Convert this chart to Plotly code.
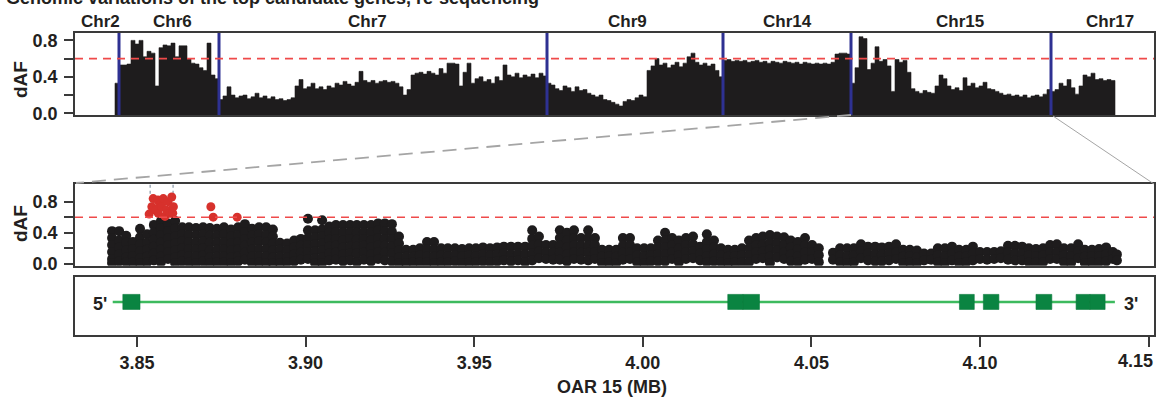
import plotly.graph_objects as go

# ---------------- data ----------------
# Top panel: dAF per genomic bin (equal-width bins), grouped by chromosome
chr_names = ["Chr2", "Chr6", "Chr7", "Chr9", "Chr14", "Chr15", "Chr17"]
daf_chr2 = [0.33]
daf_chr6 = [0.53, 0.53, 0.54, 0.80, 0.76, 0.80, 0.62, 0.68, 0.66, 0.30, 0.72, 0.75, 0.74,
            0.77, 0.62, 0.74, 0.74, 0.60, 0.55, 0.54, 0.50, 0.47, 0.77, 0.42, 0.38]
daf_chr7 = [0.15, 0.19, 0.29, 0.20, 0.17, 0.19, 0.20, 0.16, 0.18, 0.22, 0.17, 0.19, 0.16,
            0.18, 0.15, 0.16, 0.14, 0.15, 0.17, 0.30, 0.37, 0.27, 0.29, 0.33, 0.27, 0.29,
            0.26, 0.30, 0.28, 0.33, 0.31, 0.35, 0.32, 0.30, 0.34, 0.46, 0.36, 0.34, 0.36,
            0.33, 0.35, 0.36, 0.34, 0.35, 0.33, 0.29, 0.20, 0.26, 0.42, 0.44, 0.45, 0.43,
            0.46, 0.44, 0.42, 0.49, 0.44, 0.55, 0.55, 0.54, 0.30, 0.45, 0.55, 0.33, 0.38,
            0.40, 0.35, 0.37, 0.33, 0.40, 0.36, 0.53, 0.42, 0.40, 0.44, 0.39, 0.42, 0.40,
            0.43, 0.39, 0.44, 0.41]
daf_chr9 = [0.33, 0.31, 0.27, 0.25, 0.30, 0.28, 0.24, 0.29, 0.25, 0.26, 0.22, 0.20, 0.18,
            0.20, 0.15, 0.14, 0.12, 0.10, 0.08, 0.13, 0.15, 0.14, 0.17, 0.20, 0.18, 0.47,
            0.52, 0.60, 0.53, 0.55, 0.50, 0.53, 0.56, 0.51, 0.55, 0.62, 0.66, 0.56, 0.53,
            0.55, 0.52, 0.54, 0.47, 0.40]
daf_chr14 = [0.58, 0.59, 0.57, 0.58, 0.57, 0.58, 0.56, 0.57, 0.58, 0.56, 0.57, 0.55, 0.57,
             0.56, 0.55, 0.57, 0.56, 0.55, 0.56, 0.54, 0.56, 0.55, 0.54, 0.55, 0.54, 0.55,
             0.54, 0.56, 0.65, 0.66, 0.66, 0.65]
daf_chr15 = [0.33, 0.50, 0.84, 0.82, 0.48, 0.55, 0.73, 0.57, 0.59, 0.52, 0.24, 0.59, 0.56,
             0.58, 0.45, 0.27, 0.24, 0.22, 0.25, 0.23, 0.22, 0.30, 0.42, 0.38, 0.30, 0.26,
             0.28, 0.25, 0.39, 0.30, 0.33, 0.28, 0.30, 0.34, 0.27, 0.26, 0.24, 0.22, 0.20,
             0.21, 0.19, 0.20, 0.18, 0.20, 0.17, 0.19, 0.20, 0.18, 0.21, 0.26]
daf_chr17 = [0.24, 0.26, 0.33, 0.30, 0.37, 0.28, 0.21, 0.30, 0.42, 0.40, 0.44, 0.37, 0.38,
             0.36, 0.37, 0.36]
top_daf = [daf_chr2, daf_chr6, daf_chr7, daf_chr9, daf_chr14, daf_chr15, daf_chr17]

# Middle panel: SNP positions on OAR15 (Mb) and dAF values observed at each position
mid_pos = [3.8426, 3.8447, 3.8468, 3.8488, 3.8509, 3.8530, 3.8550, 3.8571, 3.8592, 3.8613,
           3.8634, 3.8654, 3.8675, 3.8696, 3.8716, 3.8737, 3.8758, 3.8779, 3.8800, 3.8820,
           3.8841, 3.8862, 3.8883, 3.8903, 3.8924, 3.8945, 3.8966, 3.8986, 3.9007, 3.9028,
           3.9049, 3.9070, 3.9090, 3.9111, 3.9132, 3.9152, 3.9173, 3.9194, 3.9215, 3.9235,
           3.9256, 3.9277, 3.9298, 3.9319, 3.9339, 3.9360, 3.9381, 3.9402, 3.9422, 3.9443,
           3.9464, 3.9485, 3.9505, 3.9526, 3.9547, 3.9568, 3.9588, 3.9609, 3.9630, 3.9651,
           3.9672, 3.9692, 3.9713, 3.9734, 3.9754, 3.9775, 3.9796, 3.9817, 3.9838, 3.9858,
           3.9879, 3.9900, 3.9921, 3.9941, 3.9962, 3.9983, 4.0004, 4.0024, 4.0045, 4.0066,
           4.0087, 4.0107, 4.0128, 4.0149, 4.0170, 4.0190, 4.0211, 4.0232, 4.0253, 4.0273,
           4.0294, 4.0315, 4.0336, 4.0356, 4.0377, 4.0398, 4.0419, 4.0439, 4.0460, 4.0481,
           4.0502, 4.0522, 4.0564, 4.0585, 4.0606, 4.0626, 4.0647, 4.0668, 4.0689, 4.0709,
           4.0730, 4.0751, 4.0772, 4.0792, 4.0813, 4.0834, 4.0855, 4.0875, 4.0896, 4.0917,
           4.0938, 4.0959, 4.0979, 4.1000, 4.1021, 4.1042, 4.1062, 4.1083, 4.1104, 4.1125,
           4.1145, 4.1166, 4.1187, 4.1208, 4.1228, 4.1249, 4.1270, 4.1291, 4.1311, 4.1332,
           4.1353, 4.1374, 4.1394, 4.1406]
mid_daf = [
    [0.42, 0.33, 0.24, 0.15, 0.06, 0.01], [0.42, 0.30, 0.21, 0.12, 0.03], [0.36, 0.27, 0.17, 0.08, 0.02],
    [0.28, 0.19, 0.10, 0.02], [0.45, 0.34, 0.25, 0.16, 0.07, 0.01], [0.38, 0.27, 0.18, 0.09, 0.02],
    [0.50, 0.40, 0.31, 0.22, 0.13, 0.04], [0.55, 0.46, 0.37, 0.27, 0.18, 0.09, 0.02],
    [0.52, 0.42, 0.33, 0.24, 0.15, 0.06], [0.55, 0.45, 0.35, 0.26, 0.17, 0.08, 0.01],
    [0.47, 0.38, 0.29, 0.20, 0.11, 0.03], [0.47, 0.37, 0.28, 0.19, 0.10, 0.02],
    [0.46, 0.37, 0.27, 0.18, 0.09, 0.01], [0.47, 0.38, 0.29, 0.20, 0.11, 0.03],
    [0.46, 0.36, 0.27, 0.17, 0.08, 0.01], [0.45, 0.36, 0.27, 0.18, 0.09, 0.02],
    [0.47, 0.38, 0.28, 0.19, 0.10, 0.02], [0.44, 0.35, 0.26, 0.17, 0.08, 0.01],
    [0.47, 0.37, 0.28, 0.19, 0.10, 0.03], [0.51, 0.41, 0.32, 0.23, 0.14, 0.05],
    [0.45, 0.36, 0.27, 0.18, 0.09, 0.01], [0.47, 0.38, 0.29, 0.19, 0.10, 0.02],
    [0.47, 0.37, 0.28, 0.19, 0.10, 0.01], [0.44, 0.35, 0.26, 0.17, 0.08, 0.01],
    [0.27, 0.18, 0.09, 0.01], [0.26, 0.17, 0.08, 0.02], [0.30, 0.21, 0.12, 0.03],
    [0.32, 0.23, 0.14, 0.05], [0.58, 0.43, 0.33, 0.24, 0.15, 0.06], [0.43, 0.34, 0.25, 0.16, 0.07, 0.01],
    [0.56, 0.44, 0.35, 0.26, 0.17, 0.08, 0.01], [0.48, 0.40, 0.31, 0.22, 0.13, 0.04],
    [0.50, 0.41, 0.32, 0.23, 0.14, 0.05], [0.50, 0.40, 0.30, 0.21, 0.12, 0.03],
    [0.50, 0.41, 0.32, 0.22, 0.13, 0.04], [0.50, 0.40, 0.31, 0.22, 0.13, 0.02],
    [0.50, 0.41, 0.32, 0.23, 0.14, 0.05], [0.50, 0.40, 0.30, 0.21, 0.12, 0.03],
    [0.52, 0.43, 0.33, 0.24, 0.15, 0.06], [0.52, 0.42, 0.32, 0.23, 0.14, 0.04],
    [0.51, 0.41, 0.32, 0.22, 0.13, 0.03], [0.35, 0.26, 0.17, 0.08, 0.01],
    [0.18, 0.09, 0.01], [0.18, 0.09, 0.02], [0.20, 0.11, 0.02], [0.28, 0.19, 0.10, 0.02],
    [0.28, 0.18, 0.09, 0.01], [0.20, 0.11, 0.02], [0.20, 0.10, 0.02], [0.20, 0.11, 0.03],
    [0.19, 0.10, 0.01], [0.20, 0.11, 0.02], [0.20, 0.10, 0.02], [0.21, 0.12, 0.03],
    [0.20, 0.11, 0.02], [0.21, 0.12, 0.03], [0.22, 0.13, 0.04], [0.22, 0.12, 0.03],
    [0.22, 0.13, 0.04], [0.22, 0.12, 0.02], [0.43, 0.32, 0.23, 0.13, 0.04], [0.35, 0.25, 0.16, 0.07],
    [0.24, 0.15, 0.06], [0.24, 0.14, 0.05], [0.43, 0.33, 0.23, 0.14, 0.05], [0.40, 0.30, 0.21, 0.12, 0.03],
    [0.43, 0.33, 0.24, 0.15, 0.06], [0.33, 0.23, 0.14, 0.05], [0.43, 0.33, 0.23, 0.14, 0.04],
    [0.33, 0.24, 0.15, 0.06], [0.18, 0.09, 0.01], [0.18, 0.10, 0.02], [0.18, 0.09, 0.01],
    [0.33, 0.23, 0.14, 0.05], [0.33, 0.24, 0.15, 0.06], [0.20, 0.11, 0.02], [0.20, 0.10, 0.01],
    [0.20, 0.11, 0.03], [0.30, 0.21, 0.12, 0.03], [0.40, 0.30, 0.21, 0.12, 0.03], [0.33, 0.24, 0.15, 0.06],
    [0.30, 0.20, 0.11, 0.02], [0.33, 0.24, 0.15, 0.06], [0.35, 0.25, 0.16, 0.07], [0.22, 0.13, 0.04],
    [0.38, 0.28, 0.19, 0.10, 0.02], [0.30, 0.21, 0.12, 0.03], [0.20, 0.11, 0.02], [0.18, 0.09, 0.01],
    [0.18, 0.10, 0.02], [0.20, 0.11, 0.02], [0.30, 0.20, 0.11, 0.02], [0.33, 0.24, 0.15, 0.06],
    [0.35, 0.25, 0.16, 0.07], [0.37, 0.27, 0.18, 0.09, 0.01], [0.35, 0.26, 0.17, 0.08],
    [0.34, 0.24, 0.15, 0.06], [0.30, 0.21, 0.12, 0.03], [0.28, 0.19, 0.10, 0.02], [0.33, 0.23, 0.14, 0.05],
    [0.24, 0.15, 0.06], [0.20, 0.11, 0.02], [0.14, 0.05], [0.20, 0.11, 0.02], [0.20, 0.10, 0.01],
    [0.20, 0.11, 0.02], [0.25, 0.16, 0.07], [0.22, 0.13, 0.04], [0.22, 0.12, 0.03], [0.21, 0.12, 0.03],
    [0.22, 0.13, 0.04], [0.25, 0.15, 0.06], [0.18, 0.09, 0.01], [0.18, 0.10, 0.02], [0.17, 0.08, 0.01],
    [0.13, 0.04], [0.13, 0.05], [0.20, 0.11, 0.02], [0.20, 0.10, 0.01], [0.22, 0.13, 0.04],
    [0.18, 0.09, 0.01], [0.18, 0.10, 0.02], [0.22, 0.13, 0.04], [0.15, 0.06], [0.15, 0.05],
    [0.15, 0.06], [0.16, 0.07], [0.23, 0.14, 0.05], [0.23, 0.13, 0.04], [0.22, 0.13, 0.04],
    [0.20, 0.11, 0.02], [0.19, 0.10, 0.02], [0.20, 0.11, 0.02], [0.24, 0.15, 0.06], [0.25, 0.15, 0.06],
    [0.20, 0.11, 0.02], [0.20, 0.10, 0.01], [0.25, 0.16, 0.07], [0.18, 0.09, 0.01], [0.18, 0.10, 0.02],
    [0.19, 0.10, 0.02], [0.21, 0.12, 0.03], [0.15, 0.06], [0.12, 0.04],
]
# Candidate SNPs above the threshold (red)
red_pos = [3.8536, 3.8544, 3.8548, 3.8556, 3.8562, 3.8563, 3.8568, 3.8573, 3.8578, 3.8583,
           3.8588, 3.8592, 3.8598, 3.8603, 3.8606, 3.8608, 3.8719, 3.8726, 3.8797]
red_daf = [0.64, 0.735, 0.84, 0.69, 0.82, 0.65, 0.76, 0.735, 0.84, 0.61,
           0.69, 0.80, 0.65, 0.86, 0.65, 0.735, 0.735, 0.60, 0.60]
threshold = 0.6
region_bounds = [3.8539, 3.8607]

# Gene model (Mb)
gene_span = [3.8428, 4.1400]
exon_start = [3.8458, 4.0252, 4.0297, 4.0939, 4.1010, 4.1166, 4.1285, 4.1326]
exon_end = [3.8509, 4.0297, 4.0346, 4.0983, 4.1056, 4.1213, 4.1326, 4.1371]

x_ticks = [3.85, 3.90, 3.95, 4.00, 4.05, 4.10, 4.15]
x_tick_text = ["3.85", "3.90", "3.95", "4.00", "4.05", "4.10", "4.15"]
y_ticks = [0.0, 0.2, 0.4, 0.6, 0.8]
y_tick_text = ["0.0", "", "0.4", "", "0.8"]

# ---------------- layout helpers ----------------
W, H = 1160, 402
def fx(p):
    return p / W
def fy(p):
    return 1 - p / H

FONT = "Liberation Sans, Arial, Helvetica, sans-serif"
TXT = "#231f20"
X_DOM = [fx(75), fx(1154)]
MB_RANGE = [3.85 + (75 - 137) / 3372.0, 3.85 + (1154 - 137) / 3372.0]
TOP_RANGE = [(75 - 115) / 4.0, (1154 - 115) / 4.0]

fig = go.Figure()

# ---- top panel: stepped filled profile ----
vals = [v for lst in top_daf for v in lst]
n = len(vals)
xs = [0] + list(range(n)) + [n, n]
ys = [-0.05] + vals + [vals[-1], -0.05]
fig.add_trace(go.Scatter(x=xs, y=ys, mode="lines", line=dict(shape="hv", width=0.6, color="#1e1c1d"),
                         fill="toself", fillcolor="#1e1c1d", xaxis="x", yaxis="y",
                         hoverinfo="skip", showlegend=False))

# ---- middle panel ----
bx, by = [], []
for p, col in zip(mid_pos, mid_daf):
    for v in col:
        bx.append(p)
        by.append(v)
fig.add_trace(go.Scatter(x=bx, y=by, mode="markers", marker=dict(size=10, color="#1e1c1d"),
                         xaxis="x2", yaxis="y2", showlegend=False))
fig.add_trace(go.Scatter(x=red_pos, y=red_daf, mode="markers", marker=dict(size=9, color="#d7312c"),
                         xaxis="x2", yaxis="y2", showlegend=False))

# gene backbone
fig.add_trace(go.Scatter(x=gene_span, y=[0.57, 0.57], mode="lines",
                         line=dict(color="#3dba5e", width=2.5),
                         xaxis="x3", yaxis="y3", showlegend=False))

shapes = []
# chromosome boundaries
bounds = []
acc = 0
for lst in top_daf[:-1]:
    acc += len(lst)
    bounds.append(acc)
for b in bounds:
    shapes.append(dict(type="line", xref="x", yref="y domain", x0=b, x1=b, y0=0, y1=1,
                       line=dict(color="#2e3192", width=3), layer="above"))
# thresholds
for yr, xr in (("y", "x domain"), ("y2", "x2 domain")):
    shapes.append(dict(type="line", xref=xr, yref=yr, x0=0, x1=1, y0=threshold, y1=threshold,
                       line=dict(color="#ef4a4a", width=1.6, dash="8px,6px"), layer="above"))
# candidate region bounds
for b in region_bounds:
    shapes.append(dict(type="line", xref="x2", yref="y2 domain", x0=b, x1=b, y0=0, y1=1,
                       line=dict(color="#8a98a8", width=1.2, dash="3px,3px"), layer="below"))
# connector lines
shapes.append(dict(type="line", xref="paper", yref="paper", x0=fx(851), y0=fy(115), x1=fx(76), y1=fy(183),
                   line=dict(color="#a5a5a5", width=1.8, dash="14px,8px")))
shapes.append(dict(type="line", xref="paper", yref="paper", x0=fx(1053), y0=fy(116), x1=fx(1154), y1=fy(184),
                   line=dict(color="#a5a5a5", width=1)))
# exons
for s, e in zip(exon_start, exon_end):
    shapes.append(dict(type="rect", xref="x3", yref="y3", x0=s, x1=e, y0=0.44, y1=0.70,
                       fillcolor="#0a8441", line=dict(color="#0a7a3c", width=0.6), layer="above"))

annotations = []
chr_label_px = [100, 172, 367, 627, 787, 960, 1110]
for name, p in zip(chr_names, chr_label_px):
    annotations.append(dict(text=name, xref="paper", yref="paper", x=fx(p), y=fy(22),
                            xanchor="center", yanchor="middle", showarrow=False,
                            font=dict(family=FONT, size=17, color=TXT, weight="bold")))
for yc in (80, 224):
    annotations.append(dict(text="dAF", xref="paper", yref="paper", x=fx(20), y=fy(yc),
                            xanchor="center", yanchor="middle", showarrow=False, textangle=-90,
                            font=dict(family=FONT, size=19, color=TXT, weight="bold")))
annotations.append(dict(text="5'", xref="paper", yref="paper", x=fx(100), y=fy(304),
                        xanchor="center", yanchor="middle", showarrow=False,
                        font=dict(family=FONT, size=18, color=TXT, weight="bold")))
annotations.append(dict(text="3'", xref="paper", yref="paper", x=fx(1131), y=fy(304),
                        xanchor="center", yanchor="middle", showarrow=False,
                        font=dict(family=FONT, size=18, color=TXT, weight="bold")))
annotations.append(dict(text="OAR 15 (MB)", xref="paper", yref="paper", x=fx(612), y=fy(387),
                        xanchor="center", yanchor="middle", showarrow=False,
                        font=dict(family=FONT, size=18, color=TXT, weight="bold")))
annotations.append(dict(text="Genomic variations of the top candidate genes, re-sequencing",
                        xref="paper", yref="paper", x=fx(4), y=fy(10), xanchor="left", yanchor="bottom",
                        showarrow=False, font=dict(family=FONT, size=18, color=TXT, weight="bold")))
# last x tick label sits at the right edge; draw it as a right-aligned label so it stays inside
annotations.append(dict(text=x_tick_text[-1], xref="paper", yref="paper", x=fx(1155), y=fy(361),
                        xanchor="right", yanchor="middle", showarrow=False,
                        font=dict(family=FONT, size=18, color=TXT, weight="bold")))
axis_tick_text = x_tick_text[:-1] + [""]

frame = dict(showline=True, mirror=True, linecolor="#3a3a3a", linewidth=1.5,
             showgrid=False, zeroline=False)
ytick = dict(tickvals=y_ticks, ticktext=y_tick_text, ticks="outside", ticklen=9, tickwidth=1.5,
             tickcolor="#3a3a3a", ticklabelstandoff=3,
             tickfont=dict(family=FONT, size=18, color=TXT, weight="bold"))

fig.update_layout(
    width=W, height=H, margin=dict(l=0, r=0, t=0, b=0, autoexpand=False),
    paper_bgcolor="white", plot_bgcolor="white", showlegend=False,
    xaxis=dict(domain=X_DOM, range=TOP_RANGE, anchor="y", showticklabels=False, ticks="", **frame),
    yaxis=dict(domain=[fy(115), fy(33)], range=[-0.019, 0.881], anchor="x", **ytick, **frame),
    xaxis2=dict(domain=X_DOM, range=MB_RANGE, anchor="y2", showticklabels=False, ticks="", **frame),
    yaxis2=dict(domain=[fy(265.7), fy(184)], range=[-0.026, 1.028], anchor="x2", **ytick, **frame),
    xaxis3=dict(domain=X_DOM, range=MB_RANGE, anchor="y3", tickvals=x_ticks, ticktext=axis_tick_text,
                ticks="outside", ticklen=10, tickwidth=1.5, tickcolor="#3a3a3a", ticklabelstandoff=1,
                tickfont=dict(family=FONT, size=18, color=TXT, weight="bold"), **frame),
    yaxis3=dict(domain=[fy(335), fy(277)], range=[0, 1], anchor="x3", showticklabels=False, ticks="",
                **frame),
    shapes=shapes, annotations=annotations,
)

fig.write_html("out.html", config={"displayModeBar": False},
               post_script="document.body.style.margin='0';document.body.style.padding='0';")
